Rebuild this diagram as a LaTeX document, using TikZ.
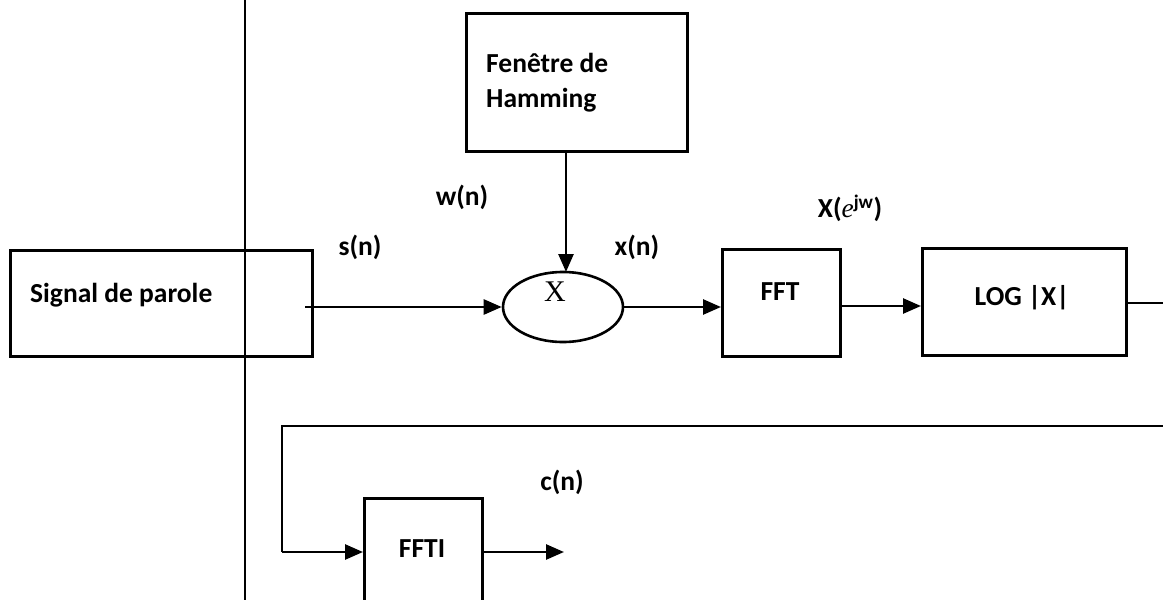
\documentclass[tikz,border=0pt]{standalone}
\usepackage{fontspec}
\setmainfont{Carlito}
\newfontfamily\serifX{Liberation Serif}
\usetikzlibrary{arrows.meta,shapes.geometric}
\tikzset{
  line/.style={line width=2.6pt, draw=black},
  arr/.style={line, -{Triangle[length=18pt,width=15pt]}},
  blk/.style={line, rectangle, inner sep=0pt, anchor=north west},
  lbl/.style={font=\bfseries\fontsize{27.5}{34}\selectfont, inner sep=0pt},
}
\begin{document}
\begin{tikzpicture}[x=1pt,y=-1pt]
\clip (0,0) rectangle (1163,600);
\fill[white] (0,0) rectangle (1163,600);
% separator line
\coordinate (vtop) at (245,0);
\coordinate (vbot) at (245,600);
\draw[line] (vtop) -- (vbot);
% blocks
\node[blk, minimum width=302pt, minimum height=106pt] (signal) at (9,249) {};
\node[lbl, anchor=west] (signaltxt) at (30,295) {Signal de parole};
\node[blk, minimum width=221pt, minimum height=138pt] (hamming) at (465,12) {};
\node[lbl, anchor=west] (ham1) at (486,63) {Fenêtre de};
\node[lbl, anchor=west] (ham2) at (486,100) {Hamming};
\node[line, ellipse, minimum width=120pt, minimum height=70pt, inner sep=0pt] (mult) at (563,307) {};
\node[inner sep=0pt, font=\serifX\fontsize{30}{34}\selectfont] (multx) at (555,292) {X};
\node[blk, minimum width=118pt, minimum height=107pt] (fft) at (721,248) {};
\node[lbl] (ffttxt) at (780,292) {FFT};
\node[blk, minimum width=204pt, minimum height=107pt] (log) at (921,247) {};
\node[lbl] (logtxt) at (1022,298) {LOG |X|};
\node[blk, minimum width=118pt, minimum height=140pt] (ffti) at (363,497) {};
\node[lbl] (fftitxt) at (422,549) {FFTI};
% labels
\node[lbl] (sn) at (360,247) {s(n)};
\node[lbl] (wn) at (462,197) {w(n)};
\node[lbl] (xn) at (637,247) {x(n)};
\node[lbl] (Xe) at (850,208) {X({\mdseries\serifX\itshape e}\textsuperscript{jw})};
\node[lbl] (cn) at (562,482) {c(n)};
% connectors
\coordinate (sstart) at (305,307);
\draw[arr] (sstart) -- (mult.west);
\draw[arr] (hamming.south -| 566,0) -- (566,272);
\draw[arr] (mult.east) -- (fft.west |- mult.east);
\draw[arr] (fft.east |- 0,306) -- (log.west |- 0,306);
\coordinate (logout) at (1163,303);
\draw[line] (log.east |- logout) -- (logout);
\coordinate (fbR) at (1163,426);
\coordinate (fbL) at (282,426);
\coordinate (fbD) at (282,552);
\draw[line] (fbR) -- (fbL) -- (fbD);
\draw[arr] (fbD) -- (ffti.west |- fbD);
\coordinate (cnout) at (564,552);
\draw[arr] (ffti.east |- cnout) -- (cnout);
\end{tikzpicture}
\end{document}
